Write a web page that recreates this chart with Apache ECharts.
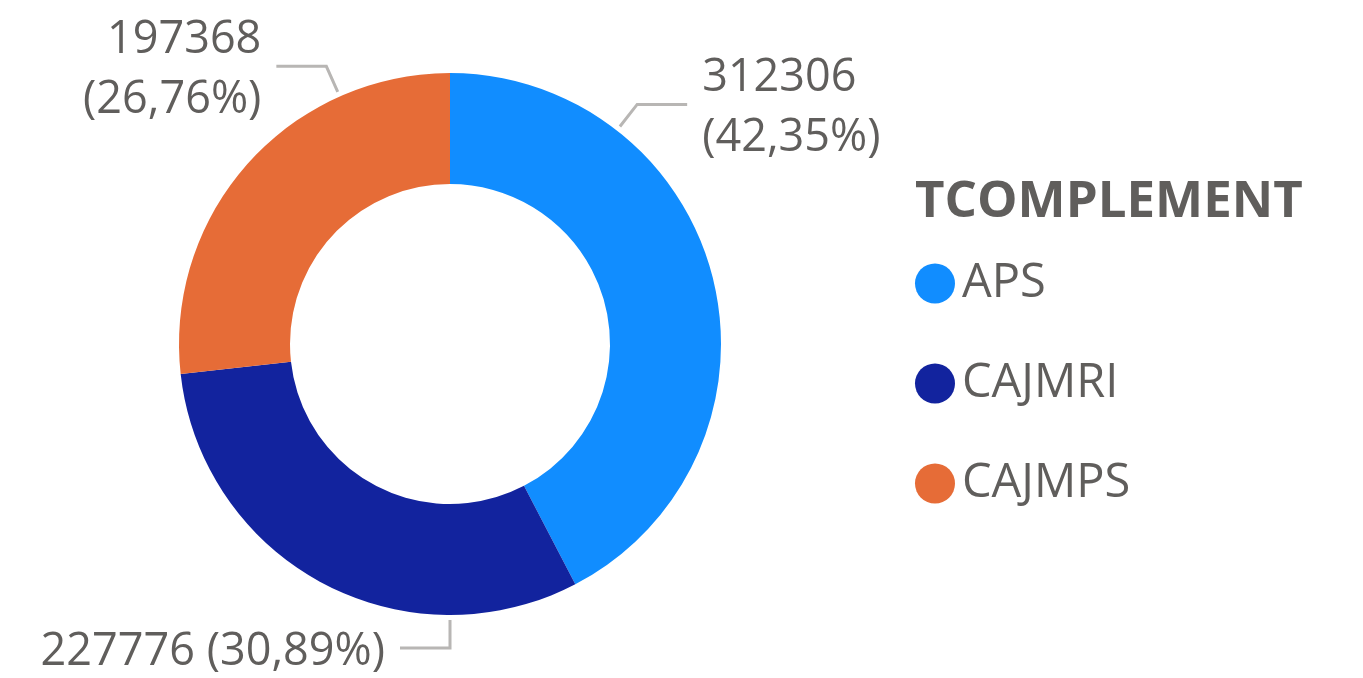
<!DOCTYPE html>
<html>
<head>
<meta charset="utf-8">
<script src="https://cdn.jsdelivr.net/npm/echarts@6/dist/echarts.min.js"></script>
<style>
html, body { margin: 0; padding: 0; background: #fff; }
#main { width: 1363px; height: 678px; }
</style>
</head>
<body>
<div id="main"></div>
<script>
var categories = ['APS', 'CAJMRI', 'CAJMPS'];
var values = [312306, 227776, 197368];
var colors = ['#118DFF', '#12239E', '#E66C37'];

// label placement: anchor angle (deg clockwise from top), side, two-line or not
var labelSpots = [
    { angle: 38, side: 1, wrap: true },
    { angle: 180, side: -1, wrap: false },
    { angle: -24, side: -1, wrap: true }
];

var cx = 450, cy = 344, r0 = 160, r1 = 271;
var textColor = '#605E5C';
var font = '"Open Sans", "Noto Sans", sans-serif';

var myChart = echarts.init(document.getElementById('main'));

function fmtPct(p) {
    return p.toFixed(2).replace('.', ',') + '%';
}

myChart.setOption({
    color: colors,
    animation: false,
    title: {
        text: 'TCOMPLEMENT',
        left: 910,
        top: 171,
        textStyle: {
            fontFamily: font,
            fontWeight: 'bold',
            fontSize: 51,
            lineHeight: 52,
            color: textColor
        }
    },
    legend: {
        orient: 'vertical',
        left: 910,
        top: 255,
        itemWidth: 40,
        itemHeight: 40,
        itemGap: 53,
        icon: 'circle',
        data: categories,
        textStyle: {
            fontFamily: font,
            fontSize: 47,
            lineHeight: 46,
            color: textColor,
            padding: [0, 0, 0, 2]
        }
    },
    series: [{
        type: 'pie',
        center: [cx, cy],
        radius: [r0, r1],
        startAngle: 90,
        clockwise: true,
        avoidLabelOverlap: false,
        data: categories.map(function (c, i) {
            return { name: c, value: values[i] };
        }),
        label: {
            show: true,
            fontFamily: font,
            fontSize: 45,
            lineHeight: 60,
            color: textColor,
            formatter: function (p) {
                var sep = labelSpots[p.dataIndex].wrap ? '\n' : ' ';
                return p.value + sep + '(' + fmtPct(p.percent) + ')';
            }
        },
        labelLine: {
            show: true,
            lineStyle: { color: '#B8B6B4', width: 3 }
        },
        labelLayout: function (params) {
            var s = labelSpots[params.dataIndex];
            var a = s.angle * Math.PI / 180;
            var dx = Math.sin(a), dy = -Math.cos(a);
            var p0 = [cx + (r1 + 5) * dx, cy + (r1 + 5) * dy];
            var p1 = [cx + (r1 + 33) * dx, cy + (r1 + 33) * dy];
            var p2 = [p1[0] + s.side * 50, p1[1]];
            return {
                x: p2[0] + s.side * 15,
                y: p2[1] + 4,
                align: s.side > 0 ? 'left' : 'right',
                verticalAlign: 'middle',
                labelLinePoints: [p0, p1, p2]
            };
        }
    }]
});
</script>
</body>
</html>
